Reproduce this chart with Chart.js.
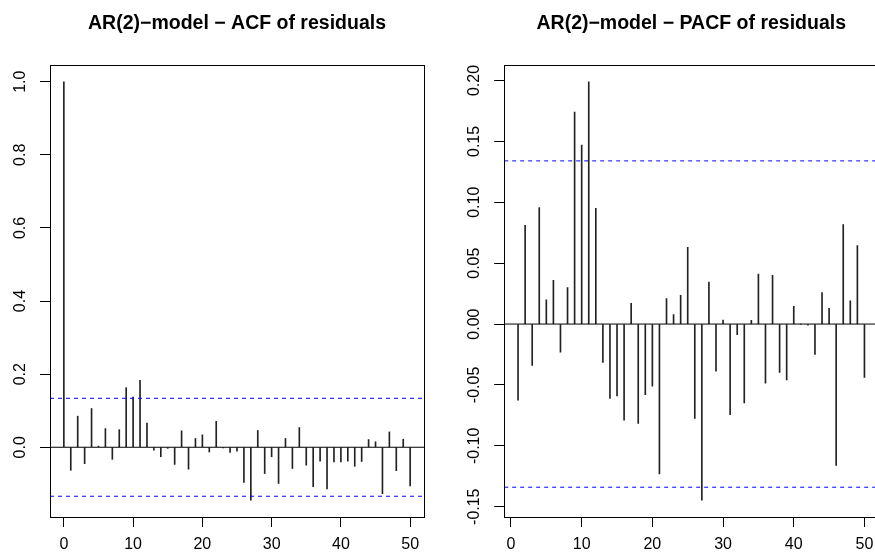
<!DOCTYPE html>
<html>
<head>
<meta charset="utf-8">
<script src="https://cdn.jsdelivr.net/npm/chart.js@4.4.0/dist/chart.umd.min.js"></script>
<style>
    html, body { margin: 0; padding: 0; background: #fff; overflow: hidden; }
    #wrap { position: relative; width: 875px; height: 557px; overflow: hidden; }
    canvas { position: absolute; top: 0; }
    #acf { left: 0; }
    #pacf { left: 437px; }
</style>
</head>
<body>
<div id="wrap">
    <canvas id="acf" width="437" height="557"></canvas>
    <canvas id="pacf" width="450" height="557"></canvas>
</div>
<script>
//  DATA

var acfLags = [0, 1, 2, 3, 4, 5, 6, 7, 8, 9, 10, 11, 12, 13, 14, 15, 16, 17, 18, 19, 20,
    21, 22, 23, 24, 25, 26, 27, 28, 29, 30, 31, 32, 33, 34, 35, 36, 37, 38, 39, 40,
    41, 42, 43, 44, 45, 46, 47, 48, 49, 50];

var acfValues = [1.000, -0.063, 0.085, -0.045, 0.106, 0.003, 0.051, -0.033, 0.048, 0.163, 0.137,
    0.183, 0.066, -0.008, -0.026, -0.003, -0.047, 0.045, -0.060, 0.024, 0.034,
    -0.013, 0.071, -0.002, -0.014, -0.011, -0.096, -0.145, 0.046, -0.072, -0.026,
    -0.099, 0.024, -0.058, 0.054, -0.049, -0.108, -0.038, -0.114, -0.040, -0.040,
    -0.038, -0.052, -0.039, 0.021, 0.015, -0.127, 0.042, -0.064, 0.022, -0.106];

var pacfLags = [1, 2, 3, 4, 5, 6, 7, 8, 9, 10, 11, 12, 13, 14, 15, 16, 17, 18, 19, 20,
    21, 22, 23, 24, 25, 26, 27, 28, 29, 30, 31, 32, 33, 34, 35, 36, 37, 38, 39, 40,
    41, 42, 43, 44, 45, 46, 47, 48, 49, 50];

var pacfValues = [-0.0625, 0.081, -0.034, 0.0956, 0.020, 0.036, -0.023, 0.030, 0.174, 0.147,
    0.199, 0.095, -0.0315, -0.061, -0.059, -0.079, 0.017, -0.0816, -0.058, -0.051,
    -0.123, 0.021, 0.0077, 0.0236, 0.063, -0.0775, -0.1447, 0.0345, -0.0386, 0.0033,
    -0.0745, -0.0088, -0.0647, 0.003, 0.041, -0.0485, 0.040, -0.0397, -0.0458, 0.0145,
    0.000, -0.001, -0.025, 0.0258, 0.013, -0.116, 0.0816, 0.019, 0.0644, -0.0438];

var confLimit = 0.134;

var xTicks = [0, 10, 20, 30, 40, 50];

var acfYTicks = [0, 0.2, 0.4, 0.6, 0.8, 1.0];
var acfYLabels = ['0.0', '0.2', '0.4', '0.6', '0.8', '1.0'];

var pacfYTicks = [-0.15, -0.10, -0.05, 0, 0.05, 0.10, 0.15, 0.20];
var pacfYLabels = ['-0.15', '-0.10', '-0.05', '0.00', '0.05', '0.10', '0.15', '0.20'];

//  R STYLE FRAME, TITLE AND ROTATED Y LABELS

var rFrame = {
    id: 'rFrame',
    afterDraw: function (chart, args, o) {
        var ctx = chart.ctx;
        var a = chart.chartArea;
        var ys = chart.scales.y;
        ctx.save();
        ctx.strokeStyle = '#000';
        ctx.lineWidth = 1;
        ctx.strokeRect(Math.round(a.left) + 0.5, Math.round(a.top) + 0.5,
            Math.round(a.right - a.left), Math.round(a.bottom - a.top));

        ctx.fillStyle = '#000';
        ctx.textAlign = 'center';
        ctx.textBaseline = 'alphabetic';
        ctx.font = 'bold 19.5px "Liberation Sans", Arial, sans-serif';
        ctx.fillText(o.title, (a.left + a.right) / 2, 28.5);

        ctx.font = '16px "Liberation Sans", Arial, sans-serif';
        o.ticks.forEach(function (v, i) {
            var y = ys.getPixelForValue(v);
            ctx.save();
            ctx.translate(a.left - 25, y);
            ctx.rotate(-Math.PI / 2);
            ctx.fillText(o.labels[i], 0, 0);
            ctx.restore();
        });
        ctx.restore();
    }
};

// plot range like R: data range plus 4% on each side
function rRange(lo, hi) {
    var d = (hi - lo) * 0.04;
    return [lo - d, hi + d];
}

function hline(y, color, dash, xr) {
    return {
        type: 'line',
        data: [{x: xr[0], y: y}, {x: xr[1], y: y}],
        borderColor: color,
        borderWidth: 1,
        borderDash: dash,
        pointRadius: 0,
        order: 0
    };
}

function acfPlot(id, title, lags, values, yTicks, yLabels, plotLeft, plotRight) {
    var canvas = document.getElementById(id);
    var xr = rRange(lags[0], lags[lags.length - 1]);
    var yr = rRange(Math.min(-confLimit, Math.min.apply(null, values)),
        Math.max(confLimit, Math.max.apply(null, values)));
    var points = lags.map(function (l, i) { return {x: l, y: values[i]}; });

    return new Chart(canvas, {
        type: 'bar',
        data: {
            datasets: [
                hline(0, '#000000', [], xr),
                hline(confLimit, '#0000ff', [4, 4], xr),
                hline(-confLimit, '#0000ff', [4, 4], xr),
                {
                    data: points,
                    backgroundColor: '#222222',
                    borderWidth: 0,
                    barThickness: 1,
                    order: 1
                }
            ]
        },
        options: {
            responsive: false,
            animation: false,
            devicePixelRatio: 1,
            layout: {
                padding: {top: 65, right: canvas.width - plotRight, left: 0, bottom: 0}
            },
            plugins: {
                legend: {display: false},
                tooltip: {enabled: false},
                rFrame: {title: title, ticks: yTicks, labels: yLabels}
            },
            scales: {
                x: {
                    type: 'linear',
                    min: xr[0],
                    max: xr[1],
                    offset: false,
                    afterBuildTicks: function (s) {
                        s.ticks = xTicks.map(function (v) { return {value: v}; });
                    },
                    afterFit: function (s) { s.height = 40; },
                    grid: {drawOnChartArea: false, offset: false, tickLength: 10, color: '#000'},
                    border: {display: false},
                    ticks: {
                        color: '#000',
                        font: {family: '"Liberation Sans", Arial, sans-serif', size: 16},
                        padding: 8,
                        maxRotation: 0,
                        autoSkip: false
                    }
                },
                y: {
                    type: 'linear',
                    min: yr[0],
                    max: yr[1],
                    afterBuildTicks: function (s) {
                        s.ticks = yTicks.map(function (v) { return {value: v}; });
                    },
                    afterFit: function (s) { s.width = plotLeft; },
                    grid: {drawOnChartArea: false, tickLength: 10, color: '#000'},
                    border: {display: false},
                    ticks: {display: false}
                }
            }
        },
        plugins: [rFrame]
    });
}

var acfChart = acfPlot('acf', 'AR(2)\u2212model \u2212 ACF of residuals',
    acfLags, acfValues, acfYTicks, acfYLabels, 50, 424);

var pacfChart = acfPlot('pacf', 'AR(2)\u2212model \u2212 PACF of residuals',
    pacfLags, pacfValues, pacfYTicks, pacfYLabels, 67.2, 441.3);
</script>
</body>
</html>
